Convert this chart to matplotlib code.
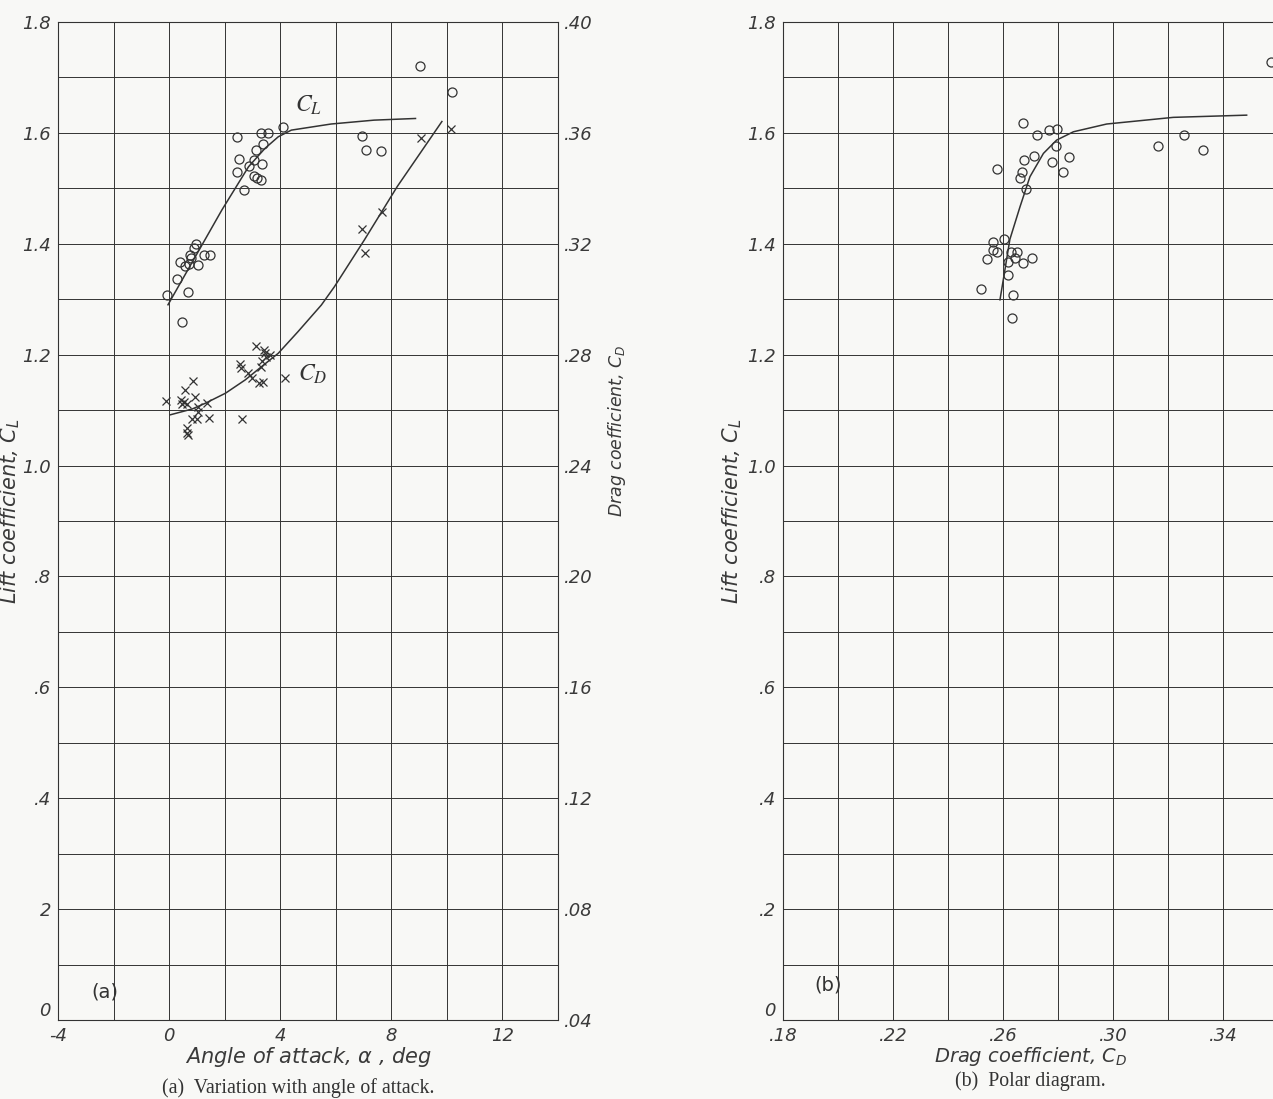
"""Lift and drag coefficient chart: (a) vs angle of attack, (b) polar."""

import matplotlib
matplotlib.use("Agg")
import matplotlib.pyplot as plt

# (a) lift coefficient test points vs angle of attack
alpha_cl = [-0.07, 0.29, 0.39, 0.57, 0.71, 0.79, 0.89, 0.96, 1.04, 0.68, 0.46,
            1.25, 1.46, 0.75, 2.43, 2.50, 2.43, 2.71, 2.89, 3.04, 3.14, 3.39,
            3.29, 3.57, 3.36, 3.18, 3.29, 3.07, 4.10, 6.96, 7.07, 7.64, 9.04, 10.18]
cl_pts = [1.308, 1.337, 1.367, 1.360, 1.364, 1.374, 1.393, 1.400, 1.362, 1.313, 1.259,
          1.380, 1.380, 1.380, 1.593, 1.553, 1.530, 1.497, 1.540, 1.551, 1.569, 1.580,
          1.600, 1.600, 1.544, 1.519, 1.515, 1.522, 1.611, 1.594, 1.569, 1.567, 1.721, 1.674]

# (a) drag coefficient test points vs angle of attack
alpha_cd = [-0.12, 0.42, 0.45, 0.54, 0.57, 0.87, 0.93, 0.65, 1.04, 1.05, 0.83, 0.99,
            0.65, 0.63, 0.69, 1.35, 1.45, 2.63, 2.54, 2.58, 2.83, 3.00, 3.24, 3.39,
            4.17, 3.13, 3.40, 3.49, 3.36, 3.29, 3.63, 3.45, 9.05, 10.15, 7.68, 6.96, 7.06]
cd_pts = [0.2634, 0.2637, 0.2622, 0.2631, 0.2672, 0.2705, 0.2649, 0.2622, 0.2610, 0.2594,
          0.2567, 0.2567, 0.2535, 0.2517, 0.2509, 0.2627, 0.2571, 0.2567, 0.2766, 0.2752,
          0.2734, 0.2716, 0.2699, 0.2702, 0.2716, 0.2831, 0.2817, 0.2791, 0.2778, 0.2755,
          0.2799, 0.2805, 0.3583, 0.3613, 0.3316, 0.3254, 0.3168]

# (a) faired curves
alpha_cl_curve = [-0.04, 1.9, 2.86, 3.45, 3.93, 4.4, 5.83, 7.38, 8.87]
cl_curve = [1.29, 1.461, 1.539, 1.572, 1.593, 1.605, 1.616, 1.623, 1.626]
alpha_cd_curve = [0.04, 0.83, 1.31, 2.03, 2.74, 3.33, 3.93, 4.64, 5.48, 5.95, 7.03, 8.21, 9.82]
cd_curve = [0.2583, 0.2604, 0.2625, 0.2661, 0.2709, 0.2757, 0.2805, 0.2883, 0.2979,
            0.3045, 0.3214, 0.3406, 0.3641]

# (b) polar test points
polar_cd = [0.2672, 0.2725, 0.2767, 0.2796, 0.2793, 0.2713, 0.2676, 0.2577, 0.2668, 0.2662,
            0.2779, 0.2839, 0.2817, 0.2684, 0.2605, 0.2565, 0.2565, 0.2579, 0.2541, 0.2629,
            0.2652, 0.2644, 0.2619, 0.2673, 0.2705, 0.2618, 0.2519, 0.2637, 0.2632, 0.3165,
            0.3257, 0.3327, 0.3573]
polar_cl = [1.617, 1.597, 1.605, 1.607, 1.576, 1.558, 1.551, 1.535, 1.530, 1.519,
            1.547, 1.556, 1.529, 1.499, 1.409, 1.403, 1.388, 1.385, 1.372, 1.385,
            1.386, 1.375, 1.367, 1.366, 1.374, 1.343, 1.319, 1.308, 1.267, 1.576,
            1.597, 1.569, 1.728]
polar_cd_curve = [0.2589, 0.2605, 0.2625, 0.2662, 0.2698, 0.2747, 0.2795, 0.2856, 0.2977,
                  0.3219, 0.3486]
polar_cl_curve = [1.299, 1.347, 1.408, 1.467, 1.521, 1.563, 1.587, 1.602, 1.616, 1.628, 1.632]

# tick values / labels
alpha_ticks = [-4, -2, 0, 2, 4, 6, 8, 10, 12, 14]
alpha_labels = ["-4", "", "0", "", "4", "", "8", "", "12", ""]
cl_ticks = [i / 10 for i in range(19)]
cl_labels_a = ["0", "", "2", "", ".4", "", ".6", "", ".8", "", "1.0", "", "1.2", "",
               "1.4", "", "1.6", "", "1.8"]
cl_labels_b = ["0", "", ".2", "", ".4", "", ".6", "", ".8", "", "1.0", "", "1.2", "",
               "1.4", "", "1.6", "", "1.8"]
cd_ticks = [0.04, 0.08, 0.12, 0.16, 0.20, 0.24, 0.28, 0.32, 0.36, 0.40]
cd_labels = [".04", ".08", ".12", ".16", ".20", ".24", ".28", ".32", ".36", ".40"]
polar_x_ticks = [0.18, 0.20, 0.22, 0.24, 0.26, 0.28, 0.30, 0.32, 0.34, 0.36]
polar_x_labels = [".18", "", ".22", "", ".26", "", ".30", "", ".34", ""]

W, H = 1273, 1099
INK = "#333333"
plt.rcParams["mathtext.fontset"] = "dejavusans"
tick_font = dict(family="DejaVu Sans", style="italic", size=13, color="#3a3a3a")
label_font = dict(family="DejaVu Sans", style="italic", size=15, color="#3a3a3a")
cap_font = dict(family="Liberation Serif", size=14.3, color="#333333")

fig = plt.figure(figsize=(W / 100, H / 100), dpi=100, facecolor="#f8f8f6")


def frame(ax):
    ax.set_facecolor("none")
    ax.grid(True, color=INK, linewidth=0.7)
    ax.tick_params(length=0, pad=5)
    for s in ax.spines.values():
        s.set_color(INK)
        s.set_linewidth(0.8)
    for lab in ax.get_xticklabels() + ax.get_yticklabels():
        lab.set(**tick_font)
    # the "0" label sits just above the bottom edge, clear of the x labels
    ax.get_yticklabels()[0].set_va("bottom")


# ---- (a) ----
ax = fig.add_axes([58 / W, (H - 1020) / H, 500 / W, 998 / H])
ax.set_xlim(-4, 14)
ax.set_ylim(0, 1.8)
ax.set_xticks(alpha_ticks, alpha_labels)
ax.set_yticks(cl_ticks, cl_labels_a)
frame(ax)
ax.plot(alpha_cl_curve, cl_curve, color=INK, lw=1.1)
ax.plot(alpha_cl, cl_pts, "o", mfc="none", mec=INK, ms=6.5, mew=0.9)
ax.set_xlabel(r"Angle of attack, $\alpha$ , deg", labelpad=0, **label_font)
ax.set_ylabel(r"Lift coefficient, $C_L$", **label_font)
ax.yaxis.set_label_coords(-0.071, 0.51)
ax.text(-2.8, 0.05, "(a)", family="DejaVu Sans", size=14, color="#333333", va="center")
ax.text(4.55, 1.65, r"$C_L$", math_fontfamily="stix", size=17, color="#333333", va="center")
ax.text(4.65, 1.165, r"$C_D$", math_fontfamily="stix", size=17, color="#333333", va="center")

ax2 = ax.twinx()
ax2.set_ylim(0.04, 0.40)
ax2.set_yticks(cd_ticks, cd_labels)
ax2.tick_params(length=0, pad=4)
for lab in ax2.get_yticklabels():
    lab.set(**tick_font)
ax2.plot(alpha_cd_curve, cd_curve, color=INK, lw=1.1)
ax2.plot(alpha_cd, cd_pts, "x", color=INK, ms=5.5, mew=0.9)
ax2.set_ylabel(r"Drag coefficient, $C_D$", size=12.5,
               **{k: v for k, v in label_font.items() if k != "size"})
ax2.yaxis.set_label_coords(1.095, 0.59)
for s in ax2.spines.values():
    s.set_visible(False)

fig.text(298 / W, 1 - 1088 / H, "(a)  Variation with angle of attack.", ha="center",
         va="center", **cap_font)

# ---- (b) ----
bx = fig.add_axes([783 / W, (H - 1020) / H, 495 / W, 998 / H])
bx.set_xlim(0.18, 0.36)
bx.set_ylim(0, 1.8)
bx.set_xticks(polar_x_ticks, polar_x_labels)
bx.set_yticks(cl_ticks, cl_labels_b)
frame(bx)
bx.plot(polar_cd_curve, polar_cl_curve, color=INK, lw=1.1)
bx.plot(polar_cd, polar_cl, "o", mfc="none", mec=INK, ms=6.5, mew=0.9, clip_on=False)
bx.set_xlabel(r"Drag coefficient, $C_D$", labelpad=0,
              **{**label_font, "size": 14})
bx.set_ylabel(r"Lift coefficient, $C_L$", **label_font)
bx.yaxis.set_label_coords(-0.078, 0.51)
bx.text(0.1915, 0.063, "(b)", family="DejaVu Sans", size=14, color="#333333", va="center")

fig.text(1030 / W, 1 - 1081 / H, "(b)  Polar diagram.", ha="center", va="center", **cap_font)

fig.savefig("out.png", dpi=100, facecolor=fig.get_facecolor())
